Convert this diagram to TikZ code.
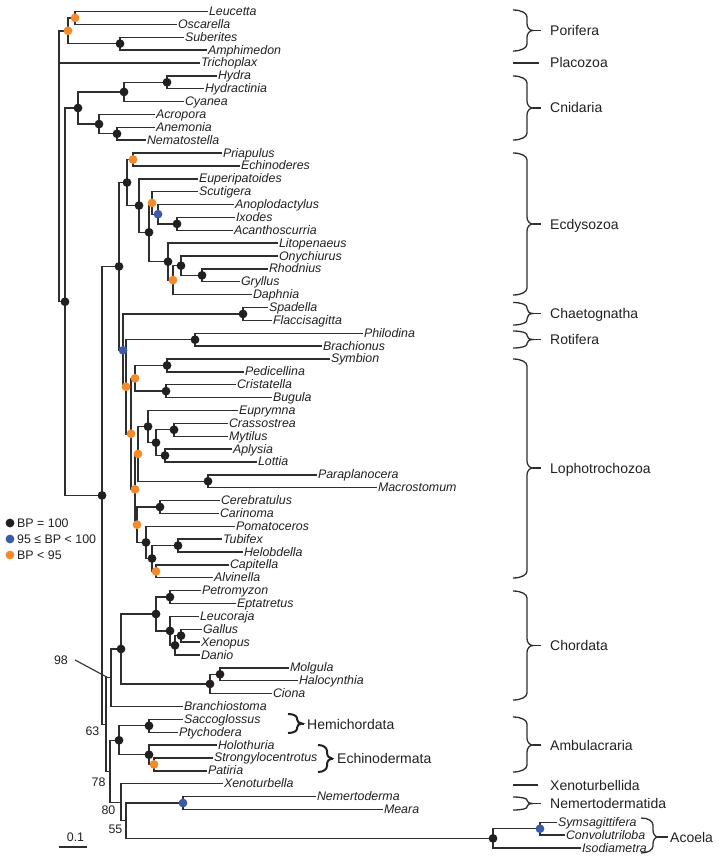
\documentclass[tikz,border=0pt]{standalone}
\usepackage{fontspec}
\setmainfont{Liberation Sans}
\usetikzlibrary{calc,backgrounds}
\definecolor{bpk}{HTML}{231F20}
\definecolor{bpb}{HTML}{3B5BA9}
\definecolor{bpo}{HTML}{F38B2A}
\definecolor{lncol}{HTML}{2E2E2E}
\newcommand{\leafy}[1]{11.5+12.87*#1}
\newcommand{\taxon}[3]{\node[leaf] (#1) at (#2,{\leafy{#3}}) {#1};}
\newcommand{\clade}[5]{%
  \path ($(#3.west)!.5!(#4.west)$) coordinate (tmpmid);
  \node[ip] (#1) at ($(#2,0)!(tmpmid)!(#2,100)$) {};
  \begin{pgfonlayer}{background}
  \draw[branch] (#3.west) -| (#1.center) |- (#4.west);
  \end{pgfonlayer}
  \path[#5] (#1) circle (4.4pt);
}
\newcommand{\cbrace}[8]{%
  \pgfmathsetmacro{\brR}{min(7,(#5-#3)/2.2,(#4-#5)/2.2)}
  \draw[#1] (#2,#3) .. controls +(0.6*#6,0) and +(0,-0.55*\brR) .. (#2+#6,#3+\brR)
    -- (#2+#6,#5-\brR) .. controls +(0,0.55*\brR) and +(-0.6*#7,0) .. (#2+#6+#7,#5)
    .. controls +(-0.6*#7,0) and +(0,-0.55*\brR) .. (#2+#6,#5+\brR)
    -- (#2+#6,#4-\brR) .. controls +(0,0.55*\brR) and +(0.6*#6,0) .. (#2,#4);
  \draw[#1] (#2+#6+#7,#5) -- (#2+#8,#5);
}
\tikzset{
  branch/.style={draw=lncol, line width=1.4pt, line cap=butt},
  brc/.style={draw=lncol, line width=1.3pt},
  brcb/.style={draw=bpk, line width=2pt},
  leaf/.style={anchor=west, inner xsep=0.8pt, inner ysep=0pt, text height=8pt, text depth=0pt,
    font=\itshape\fontsize{12.4}{14}\selectfont, text=bpk},
  ip/.style={shape=rectangle, inner sep=0pt, outer sep=0pt, minimum size=0pt},
  bs/.style={inner sep=0pt, font=\fontsize{12.4}{14}\selectfont, text=bpk},
  cl/.style={anchor=west, inner sep=0pt, text height=10pt, text depth=0pt,
    font=\fontsize{14}{16}\selectfont, text=bpk},
  lg/.style={anchor=west, inner sep=0pt, text height=9pt, text depth=0pt,
    font=\fontsize{12.4}{14}\selectfont, text=bpk},
  pk/.style={fill=bpk}, pb/.style={fill=bpb}, po/.style={fill=bpo}, nd/.style={}
}
\begin{document}
\begin{tikzpicture}[x=1pt,y=-1pt]
\useasboundingbox (0,0) rectangle (720,861);
% leaves
\taxon{Leucetta}{208}{0}
\taxon{Oscarella}{177}{1}
\taxon{Suberites}{184}{2}
\taxon{Amphimedon}{207}{3}
\taxon{Trichoplax}{200}{4}
\taxon{Hydra}{217}{5}
\taxon{Hydractinia}{204}{6}
\taxon{Cyanea}{184}{7}
\taxon{Acropora}{155}{8}
\taxon{Anemonia}{155}{9}
\taxon{Nematostella}{146}{10}
\taxon{Priapulus}{222}{11}
\taxon{Echinoderes}{240}{12}
\taxon{Euperipatoides}{198}{13}
\taxon{Scutigera}{198}{14}
\taxon{Anoplodactylus}{234}{15}
\taxon{Ixodes}{235}{16}
\taxon{Acanthoscurria}{233}{17}
\taxon{Litopenaeus}{278}{18}
\taxon{Onychiurus}{278}{19}
\taxon{Rhodnius}{268}{20}
\taxon{Gryllus}{240}{21}
\taxon{Daphnia}{252}{22}
\taxon{Spadella}{268}{23}
\taxon{Flaccisagitta}{272}{24}
\taxon{Philodina}{363}{25}
\taxon{Brachionus}{322}{26}
\taxon{Symbion}{330}{27}
\taxon{Pedicellina}{244}{28}
\taxon{Cristatella}{236}{29}
\taxon{Bugula}{272}{30}
\taxon{Euprymna}{238}{31}
\taxon{Crassostrea}{228}{32}
\taxon{Mytilus}{228}{33}
\taxon{Aplysia}{232}{34}
\taxon{Lottia}{257}{35}
\taxon{Paraplanocera}{317}{36}
\taxon{Macrostomum}{377}{37}
\taxon{Cerebratulus}{220}{38}
\taxon{Carinoma}{219}{39}
\taxon{Pomatoceros}{235}{40}
\taxon{Tubifex}{222}{41}
\taxon{Helobdella}{243}{42}
\taxon{Capitella}{229}{43}
\taxon{Alvinella}{213}{44}
\taxon{Petromyzon}{201}{45}
\taxon{Eptatretus}{236}{46}
\taxon{Leucoraja}{199}{47}
\taxon{Gallus}{202}{48}
\taxon{Xenopus}{200}{49}
\taxon{Danio}{200}{50}
\taxon{Molgula}{289}{51}
\taxon{Halocynthia}{298}{52}
\taxon{Ciona}{272}{53}
\taxon{Branchiostoma}{183}{54}
\taxon{Saccoglossus}{183}{55}
\taxon{Ptychodera}{178}{56}
\taxon{Holothuria}{217}{57}
\taxon{Strongylocentrotus}{213}{58}
\taxon{Patiria}{207}{59}
\taxon{Xenoturbella}{223}{60}
\taxon{Nemertoderma}{316}{61}
\taxon{Meara}{383}{62}
\taxon{Symsagittifera}{557}{63}
\taxon{Convolutriloba}{565}{64}
\taxon{Isodiametra}{581}{65}
% internal nodes
\clade{LO}{75}{Leucetta}{Oscarella}{po}
\clade{SA}{120}{Suberites}{Amphimedon}{pk}
\clade{Por}{68}{LO}{SA}{po}
\clade{HH}{167}{Hydra}{Hydractinia}{pk}
\clade{Med}{124}{HH}{Cyanea}{pk}
\clade{AN}{117}{Anemonia}{Nematostella}{pk}
\clade{Ant}{99}{Acropora}{AN}{pk}
\clade{Cni}{78}{Med}{Ant}{pk}
\clade{Scal}{133}{Priapulus}{Echinoderes}{po}
\clade{Arach}{177}{Ixodes}{Acanthoscurria}{pk}
\clade{Chel}{158}{Anoplodactylus}{Arach}{pb}
\clade{MC}{152}{Scutigera}{Chel}{po}
\clade{Ins}{202}{Rhodnius}{Gryllus}{pk}
\clade{Hex}{181}{Onychiurus}{Ins}{pk}
\clade{HD}{173}{Hex}{Daphnia}{po}
\clade{Panc}{168}{Litopenaeus}{HD}{pk}
\clade{Arth}{149}{MC}{Panc}{pk}
\clade{Pan}{139}{Euperipatoides}{Arth}{pk}
\clade{Ecd}{127}{Scal}{Pan}{pk}
\clade{Cha}{243}{Spadella}{Flaccisagitta}{pk}
\clade{Rot}{195}{Philodina}{Brachionus}{pk}
\clade{SP}{167}{Symbion}{Pedicellina}{pk}
\clade{Bry}{166}{Cristatella}{Bugula}{pk}
\clade{Poly}{135}{SP}{Bry}{po}
\clade{Biv}{174}{Crassostrea}{Mytilus}{pk}
\clade{Gas}{165}{Aplysia}{Lottia}{pk}
\clade{BG}{156}{Biv}{Gas}{pk}
\clade{Mol}{148}{Euprymna}{BG}{pk}
\clade{Pla}{208}{Paraplanocera}{Macrostomum}{pk}
\clade{MP}{138}{Mol}{Pla}{po}
\clade{Nem}{160}{Cerebratulus}{Carinoma}{pk}
\clade{TH}{178}{Tubifex}{Helobdella}{pk}
\clade{CA}{156}{Capitella}{Alvinella}{po}
\clade{THCA}{152}{TH}{CA}{pk}
\clade{Ann}{146}{Pomatoceros}{THCA}{pk}
\clade{NA}{137}{Nem}{Ann}{po}
\clade{MPNA}{135}{MP}{NA}{po}
\clade{Lop}{131}{Poly}{MPNA}{po}
\clade{RL}{126}{Rot}{Lop}{po}
\clade{CS}{123}{Cha}{RL}{pb}
\clade{Pro}{119}{Ecd}{CS}{pk}
\clade{PE}{170}{Petromyzon}{Eptatretus}{pk}
\clade{GX}{181}{Gallus}{Xenopus}{pk}
\clade{GXD}{175}{GX}{Danio}{pk}
\clade{Gna}{170}{Leucoraja}{GXD}{pk}
\clade{Vert}{156}{PE}{Gna}{pk}
\clade{MH}{220}{Molgula}{Halocynthia}{pk}
\clade{Tun}{210}{MH}{Ciona}{pk}
\clade{Olf}{121}{Vert}{Tun}{pk}
\clade{Cho}{111}{Olf}{Branchiostoma}{nd}
\clade{Hemi}{149}{Saccoglossus}{Ptychodera}{pk}
\clade{SPt}{154}{Strongylocentrotus}{Patiria}{po}
\clade{Echi}{149}{Holothuria}{SPt}{pk}
\clade{Amb}{119}{Hemi}{Echi}{pk}
\clade{Nmd}{183}{Nemertoderma}{Meara}{pb}
\clade{SC}{540}{Symsagittifera}{Convolutriloba}{pb}
\clade{Aco}{493}{SC}{Isodiametra}{pk}
\clade{Acm}{126}{Nmd}{Aco}{nd}
\clade{Xac}{121}{Xenoturbella}{Acm}{nd}
\clade{AX}{110}{Amb}{Xac}{nd}
\clade{Deu}{106}{Cho}{AX}{nd}
\clade{Bil}{102}{Pro}{Deu}{pk}
\clade{Eum}{65}{Cni}{Bil}{pk}
% root (polytomy)
\node[ip] (rtop) at ($(59,0)!(Por)!(59,100)$) {};
\node[ip] (rbot) at ($(59,0)!(Eum)!(59,100)$) {};
\node[ip] (rmid) at ($(59,0)!(Trichoplax.west)!(59,100)$) {};
\begin{pgfonlayer}{background}
\draw[branch] (Por.center) -- (rtop.center) -- (rbot.center) -- (Eum.center);
\draw[branch] (rmid.center) -- (Trichoplax.west);
\end{pgfonlayer}
% bootstrap values
\node[bs] (b98) at (61,660) {98};
\node[bs] (b63) at (92.5,731) {63};
\node[bs] (b78) at (98.5,782) {78};
\node[bs] (b80) at (108.5,810) {80};
\node[bs] (b55) at (115.5,829) {55};
\draw[branch, line width=1.1pt] ([xshift=7pt]b98.east) -- ($(Cho)+(-3,0)$);
% scale bar
\node[bs] (sbl) at (75.5,837) {0.1};
\coordinate (sbA) at (59,847);
\coordinate (sbB) at (87,847);
\draw[branch] (sbA) -- (sbB);
% legend
\coordinate (lg1) at (10,523);
\coordinate (lg2) at (10,539);
\coordinate (lg3) at (10,555);
\fill[bpk] (lg1) circle (4.4pt);
\fill[bpb] (lg2) circle (4.4pt);
\fill[bpo] (lg3) circle (4.4pt);
\node[lg] (lt1) at (17,523) {BP = 100};
\node[lg] (lt2) at (17,539) {95 ≤ BP < 100};
\node[lg] (lt3) at (17,555) {BP < 95};
% clade braces and labels
\cbrace{brc}{513}{10}{51}{30.5}{14}{6}{28}
\node[cl] (cPor) at (550,30.5) {Porifera};
\coordinate (plA) at (513,63);
\coordinate (plB) at (539,63);
\draw[brc] (plA) -- (plB);
\node[cl] (cPla) at (550,63) {Placozoa};
\cbrace{brc}{513}{76}{140}{108}{14}{6}{28}
\node[cl] (cCni) at (550,108) {Cnidaria};
\cbrace{brc}{513}{153}{295}{224}{14}{6}{28}
\node[cl] (cEcd) at (550,224) {Ecdysozoa};
\cbrace{brc}{513}{302.5}{325}{313.5}{14}{6}{28}
\node[cl] (cCha) at (550,313.5) {Chaetognatha};
\cbrace{brc}{513}{331}{348}{339.5}{14}{6}{28}
\node[cl] (cRot) at (550,339.5) {Rotifera};
\cbrace{brc}{513}{359}{578}{468}{14}{6}{28}
\node[cl] (cLop) at (550,468) {Lophotrochozoa};
\cbrace{brc}{513}{591}{700}{645.5}{14}{6}{28}
\node[cl] (cCho) at (550,645.5) {Chordata};
\cbrace{brc}{513}{717}{772}{745}{14}{6}{28}
\node[cl] (cAmb) at (550,745) {Ambulacraria};
\coordinate (xtA) at (513,785);
\coordinate (xtB) at (538,785);
\draw[brc] (xtA) -- (xtB);
\node[cl] (cXen) at (550,785) {Xenoturbellida};
\cbrace{brc}{513}{797}{810}{803.5}{14}{6}{28}
\node[cl] (cNmd) at (550,803.5) {Nemertodermatida};
\cbrace{brcb}{288}{714}{733}{723.5}{9}{5}{16}
\node[cl] (cHem) at (307,724) {Hemichordata};
\cbrace{brcb}{318}{745}{772}{758.5}{9}{5}{15}
\node[cl] (cEch) at (337,758.5) {Echinodermata};
\cbrace{brc}{641}{818}{853}{837}{12}{5}{27}
\node[cl] (cAco) at (670,837) {Acoela};
\end{tikzpicture}
\end{document}
